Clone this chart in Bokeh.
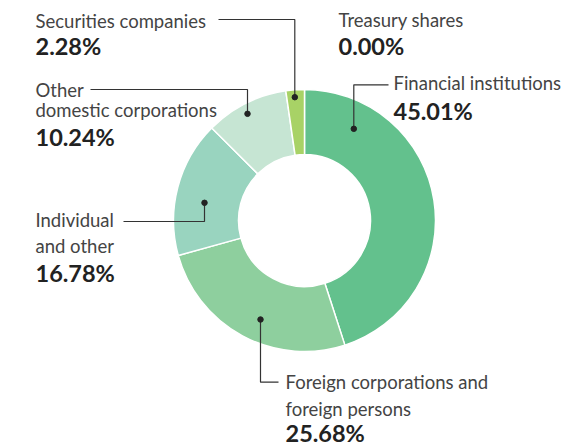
import math
from bokeh.plotting import figure
from bokeh.models import Range1d, ColumnDataSource
from bokeh.core.properties import value
from bokeh.embed import file_html
from bokeh.resources import INLINE

# ---- data ----
categories = ["Financial institutions", "Foreign corporations and foreign persons",
              "Individual and other", "Other domestic corporations",
              "Securities companies", "Treasury shares"]
shares = [45.01, 25.68, 16.78, 10.24, 2.28, 0.00]
colors = ["#63c18d", "#8ecf9e", "#99d4bf", "#c6e5d3", "#a8d266", "#bfe0a0"]

W, H = 562, 445
PAGE_H = 445
TEXT_SHIFT = 8  # baseline correction


def Y(py):
    return PAGE_H - py


p = figure(width=W, height=H, output_backend="svg", toolbar_location=None,
           x_range=Range1d(0, W), y_range=Range1d(0, H),
           min_border=0, outline_line_color=None)
p.axis.visible = False
p.grid.visible = False
p.background_fill_color = "white"

# ---- donut ----
CX, CY = 304, Y(220)
R_IN, R_OUT = 66, 131
total = sum(shares)
starts, ends, cols = [], [], []
cum = 0.0
for v, c in zip(shares, colors):
    a0 = math.pi / 2 - 2 * math.pi * cum / total
    cum += v
    a1 = math.pi / 2 - 2 * math.pi * cum / total
    if v > 0:
        starts.append(a0)
        ends.append(a1)
        cols.append(c)
src = ColumnDataSource(dict(start=starts, end=ends, color=cols))
p.annular_wedge(x=CX, y=CY, inner_radius=R_IN, outer_radius=R_OUT,
                start_angle="start", end_angle="end", direction="clock",
                fill_color="color", line_color="white", line_width=1.5, source=src)

# ---- leader lines (layout) ----
leaders = [
    [(218, 19), (294.3, 19), (294.3, 96.7)],
    [(90, 89), (247, 89), (247, 113.3)],
    [(388, 84.3), (353.3, 84.3), (353.3, 128.3)],
    [(123, 221), (204, 221), (204, 202.3)],
    [(260, 319), (260, 381.7), (278, 381.7)],
]
p.multi_line(xs=[[pt[0] for pt in l] for l in leaders],
             ys=[[Y(pt[1]) for pt in l] for l in leaders],
             line_color="#333333", line_width=1.2)
p.scatter(x=[l[-1][0] if i != 4 else l[0][0] for i, l in enumerate(leaders)],
          y=[Y(l[-1][1]) if i != 4 else Y(l[0][1]) for i, l in enumerate(leaders)],
          size=5.5, color="#222222")

# ---- labels ----
pct = ["%.2f%%" % v for v in shares]
label_lines = [
    (393, [90], ["Financial institutions"], 118),
    (285, [389, 416], ["Foreign corporations and", "foreign persons"], 440),
    (35, [227, 253], ["Individual", "and other"], 280),
    (35, [97, 117], ["Other", "domestic corporations"], 144),
    (35, [28], ["Securities companies"], 53),
    (338, [27], ["Treasury shares"], 53),
]
tx, ty, tt, bx, by, bt = [], [], [], [], [], []
for (x, ys, texts, pb), pc in zip(label_lines, pct):
    for yy, t in zip(ys, texts):
        tx.append(x); ty.append(Y(yy - TEXT_SHIFT)); tt.append(t)
    bx.append(x); by.append(Y(pb - TEXT_SHIFT)); bt.append(pc)

p.text(x=tx, y=ty, text=tt, text_font=value("Lato"), text_font_size="18.5px",
       text_color="#444444", text_baseline="alphabetic", text_align="left")
p.text(x=bx, y=by, text=bt, text_font=value("Lato"), text_font_size="23.5px",
       text_font_style="bold", text_color="#222222", text_baseline="alphabetic",
       text_align="left")

open("out.html", "w").write(file_html(p, INLINE))
